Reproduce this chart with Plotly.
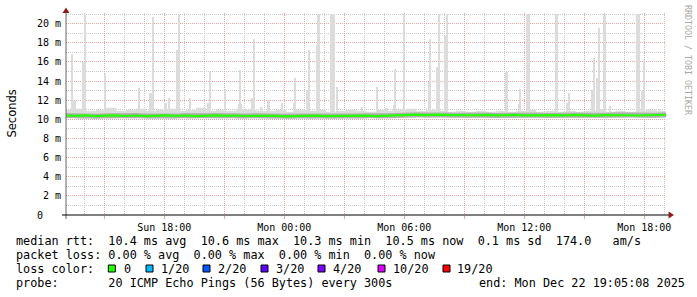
import plotly.graph_objects as go
import pandas as pd

# ---------------- data ----------------
x_start = "2025-12-21 13:05:08"
x_end = "2025-12-22 19:05:08"

# smoke / median sampled every 30 minutes from the start
band_times = pd.date_range("2025-12-21 13:05", periods=61, freq="30min")
median_ms = [
    10.40, 10.36, 10.41, 10.33, 10.38, 10.42, 10.35, 10.40, 10.34, 10.39,
    10.42, 10.36, 10.40, 10.34, 10.38, 10.41, 10.36, 10.40, 10.35, 10.38,
    10.33, 10.37, 10.32, 10.36, 10.34, 10.38, 10.33, 10.36, 10.39, 10.35,
    10.38, 10.34, 10.37, 10.40, 10.47, 10.49, 10.45, 10.50, 10.46, 10.44,
    10.48, 10.43, 10.46, 10.41, 10.44, 10.47, 10.42, 10.45, 10.40, 10.44,
    10.41, 10.46, 10.42, 10.39, 10.44, 10.47, 10.43, 10.40, 10.45, 10.42, 10.48,
]
smoke_hi_ms = [
    11.0, 11.1, 10.9, 11.0, 11.2, 10.9, 11.0, 11.1, 10.9, 11.0,
    11.1, 10.9, 11.0, 11.2, 10.9, 11.0, 10.9, 11.1, 11.0, 10.9,
    10.9, 11.0, 10.8, 11.0, 10.9, 11.0, 10.8, 10.9, 11.0, 10.9,
    10.8, 11.0, 10.9, 11.0, 11.1, 10.9, 11.0, 10.9, 10.8, 10.9,
    10.8, 10.9, 10.8, 10.9, 10.8, 10.9, 11.0, 10.8, 10.9, 10.8,
    10.9, 10.8, 10.9, 11.0, 10.8, 10.9, 10.8, 10.9, 11.0, 10.9, 10.8,
]
smoke_lo_ms = [
    10.15, 10.10, 10.18, 10.12, 10.08, 10.15, 10.12, 10.17, 10.10, 10.14,
    10.12, 10.16, 10.09, 10.13, 10.17, 10.11, 10.14, 10.10, 10.16, 10.12,
    10.08, 10.13, 10.10, 10.15, 10.09, 10.12, 10.07, 10.11, 10.14, 10.10,
    10.13, 10.09, 10.12, 10.16, 10.20, 10.24, 10.19, 10.22, 10.18, 10.21,
    10.17, 10.20, 10.16, 10.19, 10.15, 10.18, 10.21, 10.17, 10.20, 10.15,
    10.18, 10.14, 10.19, 10.16, 10.13, 10.18, 10.21, 10.17, 10.15, 10.19, 10.22,
]

# smoke spikes (outer pings): time, top value (ms), width (minutes)
spike_times = [
    "2025-12-21 13:28", "2025-12-21 13:23", "2025-12-21 13:56", "2025-12-21 14:02",
    "2025-12-21 14:59", "2025-12-21 15:02", "2025-12-21 16:44", "2025-12-21 17:20",
    "2025-12-21 17:25", "2025-12-21 18:04", "2025-12-21 18:14", "2025-12-21 18:40",
    "2025-12-21 18:44", "2025-12-21 19:17", "2025-12-21 20:14", "2025-12-21 20:17",
    "2025-12-21 21:02", "2025-12-21 21:47", "2025-12-21 21:49", "2025-12-21 22:25",
    "2025-12-21 22:29", "2025-12-21 22:52", "2025-12-21 23:13", "2025-12-21 23:53",
    "2025-12-22 00:29", "2025-12-22 00:32", "2025-12-22 01:08", "2025-12-22 01:14",
    "2025-12-22 01:37", "2025-12-22 01:44", "2025-12-22 02:25", "2025-12-22 02:38",
    "2025-12-22 03:53", "2025-12-22 04:38", "2025-12-22 05:07", "2025-12-22 05:29",
    "2025-12-22 05:32", "2025-12-22 05:59", "2025-12-22 06:01", "2025-12-22 07:16",
    "2025-12-22 07:19", "2025-12-22 07:40", "2025-12-22 07:44", "2025-12-22 08:02",
    "2025-12-22 08:08", "2025-12-22 11:07", "2025-12-22 11:44", "2025-12-22 11:49",
    "2025-12-22 12:11", "2025-12-22 13:37", "2025-12-22 14:08", "2025-12-22 14:14",
    "2025-12-22 15:23", "2025-12-22 15:29", "2025-12-22 15:38", "2025-12-22 15:44",
    "2025-12-22 16:01", "2025-12-22 16:17", "2025-12-22 17:41", "2025-12-22 17:55",
    "2025-12-22 17:59", "2025-12-22 18:44",
]
spike_top_ms = [
    12.0, 16.8, 16.0, 21.0,
    11.0, 14.7, 13.3, 12.8,
    20.7, 11.7, 12.2, 17.3,
    21.0, 12.2, 11.7, 14.9,
    13.1, 11.6, 15.2, 12.2,
    18.4, 11.3, 12.0, 11.7,
    11.7, 14.3, 13.1, 17.2,
    17.8, 21.0, 21.0, 13.4,
    11.3, 13.4, 11.2, 11.5,
    15.3, 14.4, 21.0, 13.9,
    18.4, 15.5, 21.0, 18.7,
    21.0, 15.0, 11.6, 13.2,
    21.0, 21.0, 11.7, 12.8,
    13.1, 16.4, 14.3, 19.6,
    21.0, 11.4, 21.0, 13.0,
    16.2, 11.1,
]
spike_width_min = [
    15, 6, 6, 6,
    6, 4, 6, 9,
    6, 9, 6, 9,
    6, 4, 9, 4,
    4, 12, 4, 9,
    6, 4, 9, 6,
    6, 4, 8, 6,
    6, 9, 15, 6,
    6, 6, 9, 6,
    4, 6, 4, 9,
    4, 9, 6, 6,
    6, 8, 6, 4,
    12, 9, 6, 6,
    6, 6, 6, 6,
    9, 6, 12, 9,
    6, 6,
]
spike_base_ms = 10.5

xtick_vals = [
    "2025-12-21 15:00", "2025-12-21 18:00", "2025-12-21 21:00", "2025-12-22 00:00",
    "2025-12-22 03:00", "2025-12-22 06:00", "2025-12-22 09:00", "2025-12-22 12:00",
    "2025-12-22 15:00", "2025-12-22 18:00",
]
xtick_text = ["", "Sun 18:00", "", "Mon 00:00", "", "Mon 06:00", "", "Mon 12:00", "", "Mon 18:00"]
ytick_vals = [0, 2, 4, 6, 8, 10, 12, 14, 16, 18, 20]
ytick_text = ["0\u00a0\u00a0\u00a0", "2 m", "4 m", "6 m", "8 m", "10 m", "12 m",
              "14 m", "16 m", "18 m", "20 m"]

legend_rtt = "median rtt:  10.4 ms avg  10.6 ms max  10.3 ms min  10.5 ms now  0.1 ms sd  174.0   am/s"
legend_loss = "packet loss: 0.00 % avg  0.00 % max  0.00 % min  0.00 % now"
legend_color_title = "loss color:"
loss_labels = ["0", "1/20", "2/20", "3/20", "4/20", "10/20", "19/20"]
loss_colors = ["#26ff00", "#00b8ff", "#0059ff", "#5e00ff", "#7e00ff", "#dd00ff", "#ff0000"]
legend_probe = "probe:       20 ICMP Echo Pings (56 Bytes) every 300s"
legend_end = "end: Mon Dec 22 19:05:08 2025"
watermark = "RRDTOOL / TOBI OETIKER"
y_title = "Seconds"

# ---------------- layout helpers (pixel -> paper) ----------------
PL, PR, PT, PB = 66, 666, 13, 215
def px(x):
    return (x - PL) / (PR - PL)
def py(y):
    return (PB - y) / (PB - PT)

MONO = "DejaVu Sans Mono"
RED_GRID = "#eba3a3"
GRAY_GRID = "#c9c9c9"
SMOKE = "#dcdcdc"
ARROW = "#8c1c1c"

def nb(s):
    return s.replace(" ", "\u00a0")

fig = go.Figure()

# light smoke band
fig.add_trace(go.Scatter(x=band_times, y=smoke_lo_ms, mode="lines", line=dict(width=0, shape="hv"),
                         hoverinfo="skip"))
fig.add_trace(go.Scatter(x=band_times, y=smoke_hi_ms, mode="lines", line=dict(width=0, shape="hv"),
                         fill="tonexty", fillcolor=SMOKE, hoverinfo="skip"))
# spikes
fig.add_trace(go.Bar(x=spike_times, y=[t - spike_base_ms for t in spike_top_ms], base=spike_base_ms,
                     width=[w * 60000 for w in spike_width_min], marker=dict(color=SMOKE, line=dict(width=0)),
                     hoverinfo="skip"))
# dense smoke around median
fig.add_trace(go.Scatter(x=band_times, y=median_ms, mode="lines", line=dict(width=5, color="#b0b0b0"),
                         hoverinfo="skip"))
# median
fig.add_trace(go.Scatter(x=band_times, y=median_ms, mode="lines", line=dict(width=2.2, color=loss_colors[0])))

shapes = []
# axes
shapes.append(dict(type="line", xref="paper", yref="paper", x0=px(66), x1=px(66), y0=py(219), y1=py(12),
                   line=dict(color="#666666", width=1)))
shapes.append(dict(type="line", xref="paper", yref="paper", x0=px(62), x1=px(670), y0=py(215), y1=py(215),
                   line=dict(color="black", width=1.2)))
# arrows
shapes.append(dict(type="path", xref="paper", yref="paper",
                   path=f"M {px(66)},{py(7.5)} L {px(62.5)},{py(13)} L {px(69.5)},{py(13)} Z",
                   fillcolor=ARROW, line=dict(width=0)))
shapes.append(dict(type="path", xref="paper", yref="paper",
                   path=f"M {px(674)},{py(215)} L {px(668.5)},{py(211.5)} L {px(668.5)},{py(218.5)} Z",
                   fillcolor=ARROW, line=dict(width=0)))

annotations = []
def txt(s, x, y, size=11.8, family=MONO, color="black", anchor="left", angle=0):
    annotations.append(dict(text=nb(s), x=px(x), y=py(y), xref="paper", yref="paper", showarrow=False,
                            xanchor=anchor, yanchor="middle", borderpad=0, textangle=angle,
                            font=dict(family=family, size=size, color=color)))

txt(legend_rtt, 15.3, 241)
txt(legend_loss, 15.3, 255)
txt(legend_color_title, 15.3, 268.5)
txt(legend_probe, 15.3, 282.5)
txt(legend_end, 477.5, 282.5)

box_x = [108.3, 146, 203, 261, 318, 378, 443]
label_x = [123, 160, 217.3, 275, 332, 391.7, 456.3]
for bx, lx, lab, col in zip(box_x, label_x, loss_labels, loss_colors):
    shapes.append(dict(type="rect", xref="paper", yref="paper", x0=px(bx), x1=px(bx + 7),
                       y0=py(272), y1=py(265), fillcolor=col, line=dict(color="black", width=1)))
    txt(lab, lx, 268.5)

txt(y_title, 11, 113.5, size=11.5, family="DejaVu Sans", anchor="center", angle=-90)
txt(watermark, 688, 60, size=8.3, color="#a8a8a8", anchor="center", angle=90)

fig.update_layout(
    width=697, height=297,
    margin=dict(l=PL, r=697 - PR, t=PT, b=297 - PB),
    paper_bgcolor="white", plot_bgcolor="white",
    showlegend=False, barmode="overlay", bargap=0,
    shapes=shapes, annotations=annotations,
    xaxis=dict(type="date", range=[x_start, x_end], tickmode="array", tickvals=xtick_vals, ticktext=xtick_text,
               showgrid=True, gridcolor=RED_GRID, griddash="1px,1px", gridwidth=1,
               ticks="outside", ticklen=3, tickcolor=RED_GRID,
               tickfont=dict(family=MONO, size=10, color="black"),
               showline=False, zeroline=False, fixedrange=True,
               minor=dict(tickmode="linear", tick0="2025-12-21 13:00", dtick=3600000, showgrid=True,
                          gridcolor=GRAY_GRID, griddash="1px,1px", gridwidth=1, ticks="")),
    yaxis=dict(range=[0, (PB - PT) / 9.565], tickmode="array", tickvals=ytick_vals, ticktext=ytick_text,
               showgrid=True, gridcolor=RED_GRID, griddash="1px,1px", gridwidth=1,
               ticks="", ticklabelstandoff=4,
               tickfont=dict(family=MONO, size=10, color="black"),
               showline=False, zeroline=False, fixedrange=True,
               minor=dict(tickmode="linear", tick0=0, dtick=1, showgrid=True,
                          gridcolor=GRAY_GRID, griddash="1px,1px", gridwidth=1, ticks="")),
)

fig.write_html("out.html")
